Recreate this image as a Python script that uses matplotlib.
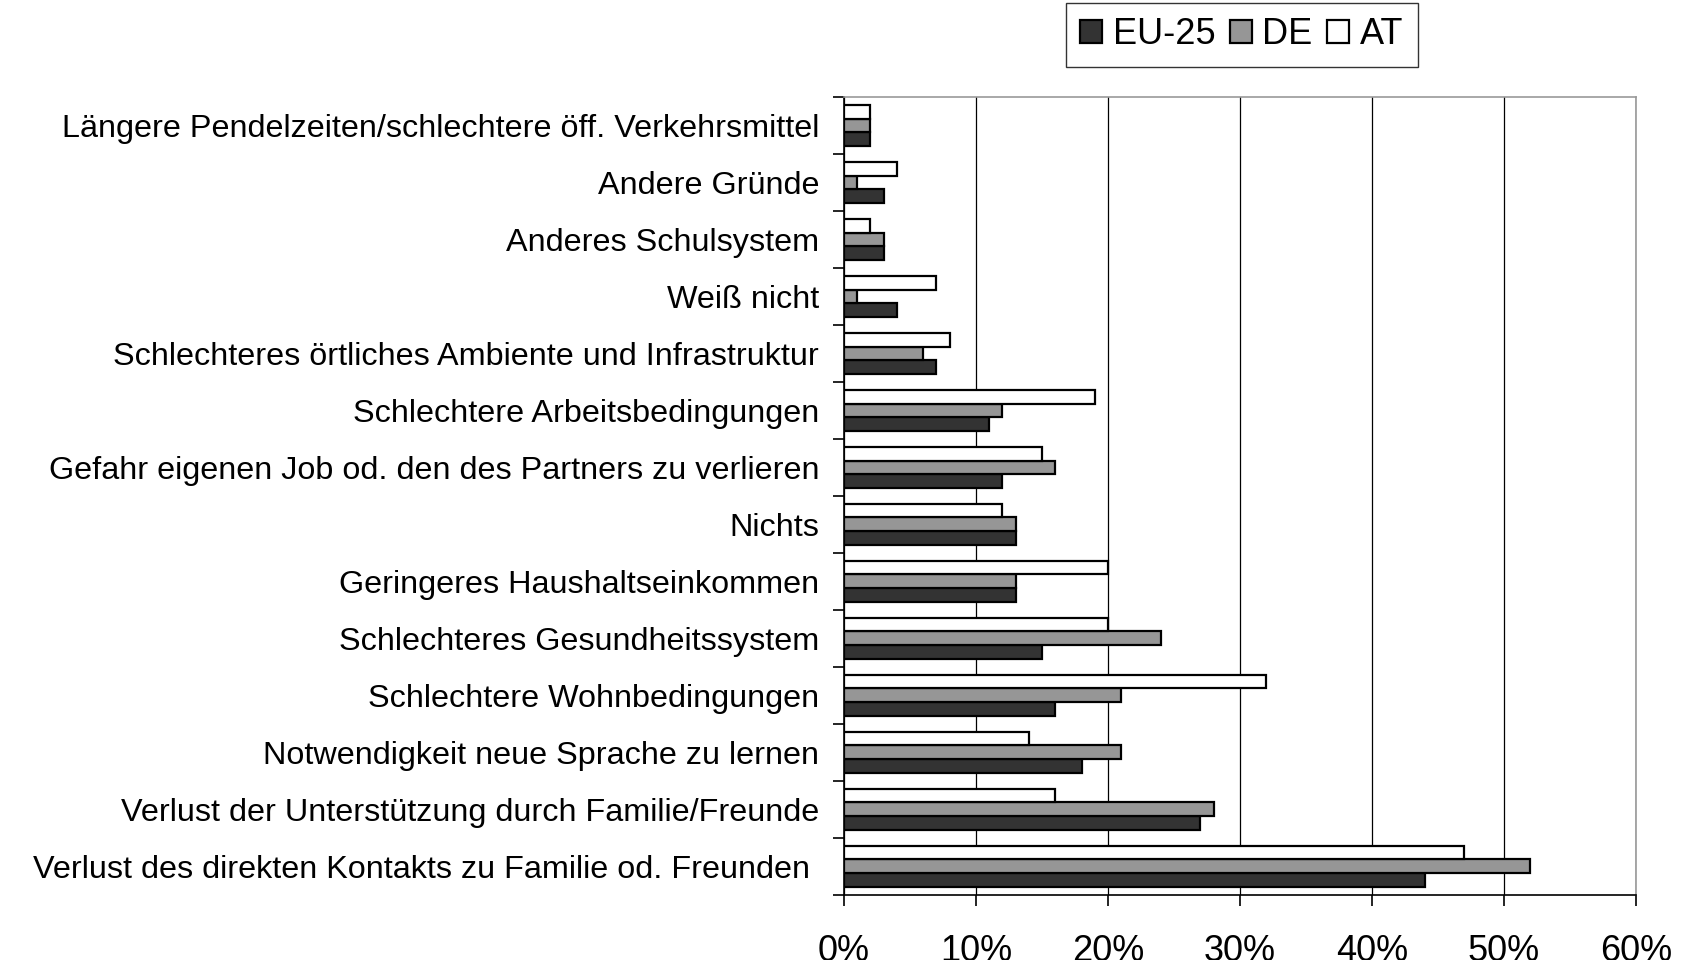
import matplotlib
matplotlib.use("Agg")
import matplotlib.pyplot as plt
import numpy as np
from matplotlib.ticker import FuncFormatter, FixedLocator

plt.rcParams['font.family'] = ['Liberation Sans', 'DejaVu Sans']

categories = [
    "Längere Pendelzeiten/schlechtere öff. Verkehrsmittel",
    "Andere Gründe",
    "Anderes Schulsystem",
    "Weiß nicht",
    "Schlechteres örtliches Ambiente und Infrastruktur",
    "Schlechtere Arbeitsbedingungen",
    "Gefahr eigenen Job od. den des Partners zu verlieren",
    "Nichts",
    "Geringeres Haushaltseinkommen",
    "Schlechteres Gesundheitssystem",
    "Schlechtere Wohnbedingungen",
    "Notwendigkeit neue Sprache zu lernen",
    "Verlust der Unterstützung durch Familie/Freunde",
    "Verlust des direkten Kontakts zu Familie od. Freunden ",
]
eu25 = [2, 3, 3, 4, 7, 11, 12, 13, 13, 15, 16, 18, 27, 44]
de = [2, 1, 3, 1, 6, 12, 16, 13, 13, 24, 21, 21, 28, 52]
at = [2, 4, 2, 7, 8, 19, 15, 12, 20, 20, 32, 14, 16, 47]
series_names = ["EU-25", "DE", "AT"]
x_ticks = [0, 10, 20, 30, 40, 50, 60]

fig = plt.figure(figsize=(16.84, 9.6), dpi=100)
ax = fig.add_axes([0.5012, 0.068, 0.4703, 0.831])

n = len(categories)
y = np.arange(n)
h = 0.24
colors = ["#333333", "#969696", "#ffffff"]
for i, (vals, name, c) in enumerate(zip([eu25, de, at], series_names, colors)):
    # EU bottom, DE middle, AT top within group (y-axis inverted)
    offset = (1 - i) * h
    ax.barh(y + offset, vals, height=h, color=c, edgecolor="black",
            linewidth=1.6, label=name, zorder=3)

ax.set_ylim(n - 0.5, -0.5)
ax.set_xlim(0, 60)
ax.set_yticks(y)
ax.set_yticklabels(categories, fontsize=23.3)
ax.yaxis.set_minor_locator(FixedLocator(np.arange(-0.5, n, 1)))
ax.tick_params(axis="y", which="major", length=0, pad=18)
ax.tick_params(axis="y", which="minor", length=8, width=1.2, color="black", direction="out")
ax.set_xticks(x_ticks)
ax.xaxis.set_major_formatter(FuncFormatter(lambda v, p: f"{int(v)}%"))
ax.tick_params(axis="x", length=8, width=1.2, direction="out", labelsize=26, pad=20)

ax.grid(axis="x", color="black", linewidth=0.9, zorder=0)
for s in ["top", "right"]:
    ax.spines[s].set_color("#999999")
    ax.spines[s].set_linewidth(1.2)
for s in ["left", "bottom"]:
    ax.spines[s].set_color("black")
    ax.spines[s].set_linewidth(1.2)

leg = fig.legend(loc="upper left", bbox_to_anchor=(0.633, 0.997), ncol=3,
                 fontsize=26, frameon=True, fancybox=False, edgecolor="black",
                 handlelength=0.6, handleheight=0.6, handletextpad=0.3,
                 columnspacing=0.4, borderpad=0.4, borderaxespad=0)
leg.get_frame().set_linewidth(1.0)

fig.savefig("out.png", dpi=100, facecolor="white")
